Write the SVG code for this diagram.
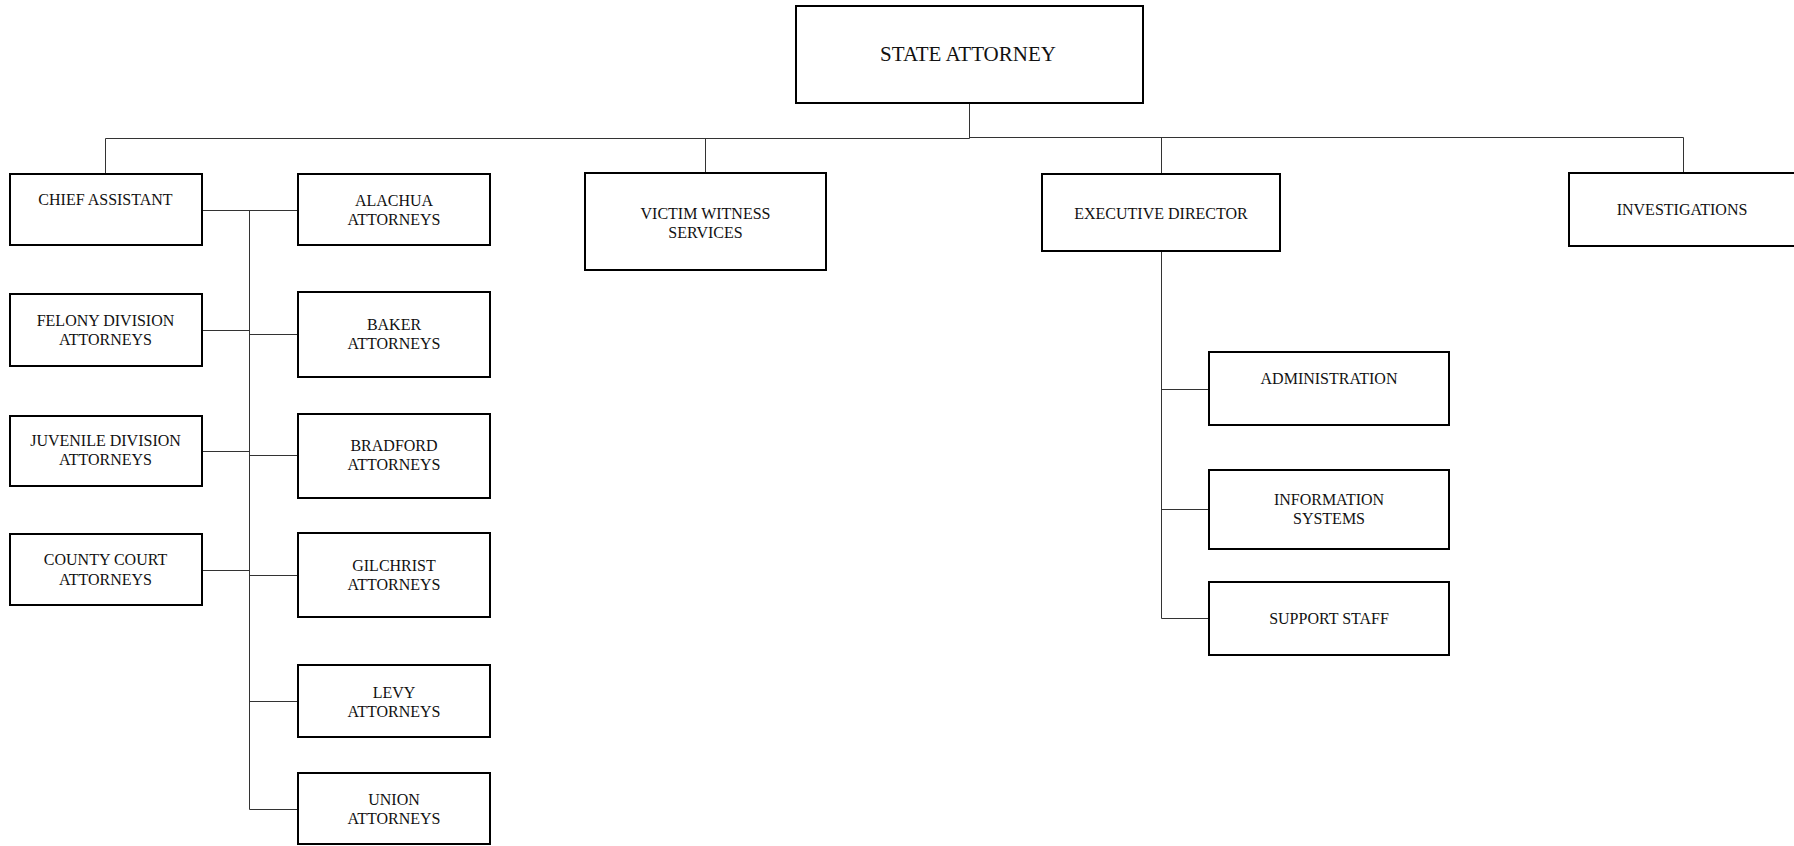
<svg xmlns="http://www.w3.org/2000/svg" width="1794" height="846" viewBox="0 0 1794 846">
<style>
.box{fill:#fff;stroke:#000;stroke-width:2}
.t{font-family:"Liberation Serif","Times New Roman",serif;font-size:16px;fill:#111;text-anchor:middle}
.big{font-size:21px}
.c{stroke:#333;stroke-width:1;fill:none}
</style>
<rect width="1794" height="846" fill="#fff"/>
<g id="connectors">
<path class="c" d="M969.5 103V138.5M105.5 138.5H969.5M969.5 137.5H1683.5M105.5 138.5V174M705.5 138.5V173M1161.5 137.5V174M1683.5 137.5V173"/>
<path class="c" d="M1161.5 251V618.5M1161.5 389.5H1209M1161.5 509.5H1209M1161.5 618.5H1209"/>
<path class="c" d="M202 210.5H298M249.5 210.5V809.5M202 330.5H249.5M202 451.5H249.5M202 570.5H249.5M249.5 334.5H298M249.5 455.5H298M249.5 575.5H298M249.5 701.5H298M249.5 809.5H298"/>
</g>
<g id="state-attorney"><rect class="box" x="796" y="6" width="347" height="97"/><text class="t big" x="968" y="60.5">STATE ATTORNEY</text></g>
<g id="chief-assistant"><rect class="box" x="10" y="174" width="192" height="71"/><text class="t" x="105.5" y="205">CHIEF ASSISTANT</text></g>
<g id="felony"><rect class="box" x="10" y="294" width="192" height="72"/><text class="t" x="105.5" y="325.5">FELONY DIVISION</text><text class="t" x="105.5" y="344.5">ATTORNEYS</text></g>
<g id="juvenile"><rect class="box" x="10" y="416" width="192" height="70"/><text class="t" x="105.5" y="446">JUVENILE DIVISION</text><text class="t" x="105.5" y="465">ATTORNEYS</text></g>
<g id="county-court"><rect class="box" x="10" y="534" width="192" height="71"/><text class="t" x="105.5" y="565">COUNTY COURT</text><text class="t" x="105.5" y="584.5">ATTORNEYS</text></g>
<g id="alachua"><rect class="box" x="298" y="174" width="192" height="71"/><text class="t" x="394" y="205.5">ALACHUA</text><text class="t" x="394" y="224.5">ATTORNEYS</text></g>
<g id="baker"><rect class="box" x="298" y="292" width="192" height="85"/><text class="t" x="394" y="329.5">BAKER</text><text class="t" x="394" y="348.5">ATTORNEYS</text></g>
<g id="bradford"><rect class="box" x="298" y="414" width="192" height="84"/><text class="t" x="394" y="451">BRADFORD</text><text class="t" x="394" y="470">ATTORNEYS</text></g>
<g id="gilchrist"><rect class="box" x="298" y="533" width="192" height="84"/><text class="t" x="394" y="571">GILCHRIST</text><text class="t" x="394" y="590">ATTORNEYS</text></g>
<g id="levy"><rect class="box" x="298" y="665" width="192" height="72"/><text class="t" x="394" y="697.5">LEVY</text><text class="t" x="394" y="716.5">ATTORNEYS</text></g>
<g id="union"><rect class="box" x="298" y="773" width="192" height="71"/><text class="t" x="394" y="805">UNION</text><text class="t" x="394" y="824">ATTORNEYS</text></g>
<g id="victim-witness"><rect class="box" x="585" y="173" width="241" height="97"/><text class="t" x="705.5" y="218.5">VICTIM WITNESS</text><text class="t" x="705.5" y="237.5">SERVICES</text></g>
<g id="executive-director"><rect class="box" x="1042" y="174" width="238" height="77"/><text class="t" x="1161" y="218.5">EXECUTIVE DIRECTOR</text></g>
<g id="administration"><rect class="box" x="1209" y="352" width="240" height="73"/><text class="t" x="1329" y="384">ADMINISTRATION</text></g>
<g id="information-systems"><rect class="box" x="1209" y="470" width="240" height="79"/><text class="t" x="1329" y="505">INFORMATION</text><text class="t" x="1329" y="524">SYSTEMS</text></g>
<g id="support-staff"><rect class="box" x="1209" y="582" width="240" height="73"/><text class="t" x="1329" y="623.5">SUPPORT STAFF</text></g>
<g id="investigations"><rect class="box" x="1569" y="173" width="240" height="73"/><text class="t" x="1682" y="215">INVESTIGATIONS</text></g>
</svg>
